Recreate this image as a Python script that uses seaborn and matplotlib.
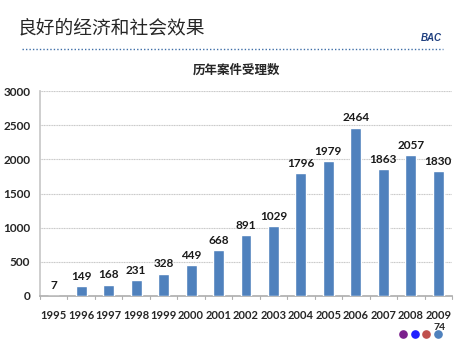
import matplotlib
matplotlib.use("Agg")
import matplotlib.pyplot as plt
import pandas as pd
import seaborn as sns
from matplotlib.lines import Line2D

years = [str(y) for y in range(1995, 2010)]
cases = [7, 149, 168, 231, 328, 449, 668, 891, 1029, 1796, 1979, 2464, 1863, 2057, 1830]
yticks = [0, 500, 1000, 1500, 2000, 2500, 3000]

sns.set_theme(style="white")
plt.rcParams["font.family"] = ["Lato", "Noto Sans CJK SC", "DejaVu Sans"]

df = pd.DataFrame({"year": years, "cases": cases})

W, H = 468, 351
fig = plt.figure(figsize=(W / 100, H / 100), dpi=100)
ax = fig.add_axes([40 / W, 1 - 296 / H, 412 / W, 205 / H])

sns.barplot(data=df, x="year", y="cases", color="#4F81BD", width=0.4,
            saturation=1, ax=ax, zorder=3)
for c in ax.containers:
    ax.bar_label(c, padding=3, fontsize=8.5, fontweight="bold", color="#1a1a1a")

ax.set_ylim(0, 3000)
ax.set_yticks(yticks)
ax.set_xlim(-0.5, len(years) - 0.5)
ax.set_xlabel("")
ax.set_ylabel("")
ax.grid(axis="y", color="#c8c8c8", lw=0.8, ls=(0, (1, 0.5)), zorder=0)
for s in ["top", "right"]:
    ax.spines[s].set_visible(False)
ax.spines["left"].set_color("#c8c8c8")
ax.spines["bottom"].set_color("#b0b0b0")
ax.tick_params(axis="y", length=0, pad=7, labelsize=8.5)
ax.tick_params(axis="x", length=0, pad=10, labelsize=8)
for t in ax.get_xticklabels() + ax.get_yticklabels():
    t.set_fontweight("bold")
# small tick marks between categories
for i in range(len(years) + 1):
    ax.plot([i - 0.5, i - 0.5], [0, -50], color="#b0b0b0", lw=0.8, clip_on=False)

fig.text(237 / W, 1 - 70 / H, "历年案件受理数", fontsize=9, fontweight="bold",
         family=["Noto Sans CJK SC"], ha="center", va="center")

fig.text(18 / W, 1 - 28 / H, "良好的经济和社会效果", fontsize=13.5,
         family=["Noto Sans CJK SC"], va="center", ha="left")
fig.text(442 / W, 1 - 38 / H, "BAC", fontsize=7, fontweight="bold",
         style="italic", color="#1f3f7f", va="center", ha="right",
         family=["Liberation Sans"])
fig.add_artist(Line2D([22 / W, 443 / W], [1 - 49 / H, 1 - 49 / H],
                      color="#3f6fa8", lw=1, ls=(0, (1, 1.5))))

dots = ["#7B1F8C", "#1f1fff", "#c0504d", "#4F81BD"]
for i, col in enumerate(dots):
    fig.add_artist(Line2D([(403 + 11.7 * i) / W], [1 - 334 / H], marker="o",
                          markersize=5.2, color=col, lw=0))
fig.text(440 / W, 1 - 327.5 / H, "74", fontsize=7.5, fontweight="bold",
         ha="center", va="center")

fig.savefig("out.png", dpi=100)
